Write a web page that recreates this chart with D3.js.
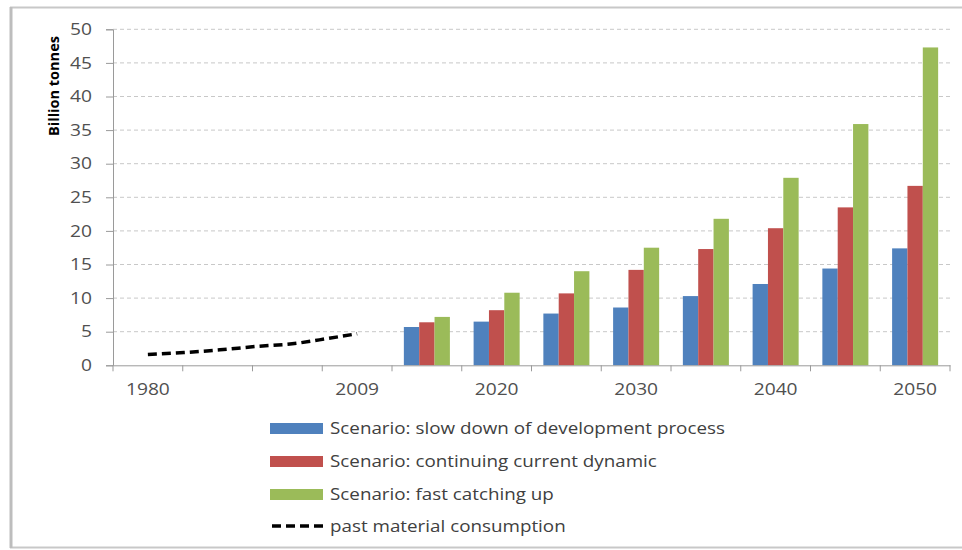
<!DOCTYPE html>
<html><head><meta charset="utf-8">
<script src="https://cdn.jsdelivr.net/npm/d3@7/dist/d3.min.js"></script>
<style>body{margin:0;background:#fff;} svg{display:block;font-family:"Open Sans",sans-serif;}</style>
</head><body><svg id="c" width="962" height="550"></svg>
<script>
const categories = ["1980","1990","2000","2009","2015","2020","2025","2030","2035","2040","2045","2050"];
const shownLabels = ["1980","2009","2020","2030","2040","2050"];
const barYears = ["2015","2020","2025","2030","2035","2040","2045","2050"];
const slowDown = [5.7, 6.5, 7.7, 8.6, 10.3, 12.1, 14.4, 17.4];
const continuing = [6.4, 8.2, 10.7, 14.2, 17.3, 20.4, 23.5, 26.7];
const fastCatching = [7.2, 10.8, 14.0, 17.5, 21.8, 27.9, 35.9, 47.3];
const pastYears = [1980, 1985, 1990, 1995, 2000, 2005, 2009];
const pastValues = [1.6, 1.9, 2.3, 2.8, 3.2, 4.0, 4.7];
const yTicks = [0,5,10,15,20,25,30,35,40,45,50];
const seriesNames = ["Scenario: slow down of development process","Scenario: continuing current dynamic","Scenario: fast catching up"];
const lineName = "past material consumption";
const colors = ["#4F81BD","#C0504D","#9BBB59"];

const svg = d3.select("#c");
// outer frame
svg.append("rect").attr("x",11).attr("y",7.5).attr("width",960).attr("height",540)
  .attr("fill","none").attr("stroke","#c8c8c8").attr("stroke-width",2);
svg.append("line").attr("x1",11).attr("x2",11).attr("y1",7).attr("y2",548).attr("stroke","#bdbdbd").attr("stroke-width",3);

const pLeft=113, pRight=950, pTop=29.3, pBottom=365.3;
const x = d3.scaleBand().domain(categories).range([pLeft,pRight]).paddingInner(0).paddingOuter(0);
const y = d3.scaleLinear().domain([0,50]).range([pBottom,pTop]);
const bw = x.bandwidth();
const groupW = bw*0.66;
const xs = d3.scaleBand().domain([0,1,2]).range([0,groupW]);
const sx = 1.2;

// gridlines
svg.append("g").selectAll("line").data(yTicks.filter(d=>d>0)).join("line")
  .attr("x1",pLeft).attr("x2",pRight+2).attr("y1",d=>y(d)).attr("y2",d=>y(d))
  .attr("stroke","#c8c8c8").attr("stroke-width",1).attr("stroke-dasharray","4,3");

// y axis
const yAxis = svg.append("g").attr("transform",`translate(${pLeft},0)`)
  .call(d3.axisLeft(y).tickValues(yTicks).tickSize(7).tickPadding(14));
yAxis.select(".domain").attr("stroke","#9a9a9a");
yAxis.selectAll(".tick line").attr("stroke","#9a9a9a");
yAxis.selectAll(".tick text").attr("fill","#505050").style("font-size","16px").style("font-family","Open Sans")
  .attr("x",-21/sx).attr("transform",`scale(${sx},1)`);

// bars
const series = [slowDown, continuing, fastCatching];
series.forEach((vals,si)=>{
  svg.append("g").selectAll("rect").data(barYears.map((c,i)=>({c,v:vals[i]}))).join("rect")
    .attr("x",d=>x(d.c)+(bw-groupW)/2+xs(si))
    .attr("width",xs.bandwidth())
    .attr("y",d=>y(d.v)).attr("height",d=>y(0)-y(d.v))
    .attr("fill",colors[si]);
});

// x axis
const xAxis = svg.append("g").attr("transform",`translate(0,${pBottom})`)
  .call(d3.axisBottom(x).tickSize(0).tickPadding(18).tickFormat(d=>shownLabels.includes(d)?d:""));
xAxis.select(".domain").attr("stroke","#9a9a9a");
xAxis.selectAll(".tick text").attr("fill","#505050").style("font-size","16px").style("font-family","Open Sans")
  .attr("transform",`scale(${sx},1)`);
// tick marks at band boundaries
const bounds = categories.map(c=>x(c)).concat([pRight]);
svg.append("g").selectAll("line").data(bounds).join("line")
  .attr("x1",d=>d).attr("x2",d=>d).attr("y1",pBottom).attr("y2",pBottom+6)
  .attr("stroke","#9a9a9a");

// past line
const xl = d3.scaleLinear().domain([1980,2009]).range([x("1980")+bw/2, x("2009")+bw/2]);
const line = d3.line().x((d,i)=>xl(pastYears[i])).y(d=>y(d)).curve(d3.curveMonotoneX);
svg.append("path").datum(pastValues).attr("d",line).attr("fill","none")
  .attr("stroke","#000").attr("stroke-width",3.5).attr("stroke-dasharray","9,5");

// y title
svg.append("text").attr("transform","translate(59,86) rotate(-90)").attr("text-anchor","middle")
  .style("font-weight","bold").style("font-size","14.5px").style("font-family","Open Sans").attr("fill","#000")
  .text("Billion tonnes");

// legend
const lg = svg.append("g");
const rows = [428, 461, 494, 526];
const lsx = 1.14;
seriesNames.forEach((n,i)=>{
  lg.append("rect").attr("x",270).attr("y",rows[i]-5).attr("width",53).attr("height",11).attr("fill",colors[i]);
  lg.append("text").attr("transform",`translate(330,${rows[i]}) scale(${lsx},1)`).attr("dy","0.35em").style("font-size","16.5px").attr("fill","#404040").text(n);
});
lg.append("line").attr("x1",272).attr("x2",325).attr("y1",rows[3]).attr("y2",rows[3])
  .attr("stroke","#000").attr("stroke-width",3.5).attr("stroke-dasharray","9,5");
lg.append("text").attr("transform",`translate(330,${rows[3]}) scale(${lsx},1)`).attr("dy","0.35em").style("font-size","16.5px").attr("fill","#404040").text(lineName);
</script></body></html>
